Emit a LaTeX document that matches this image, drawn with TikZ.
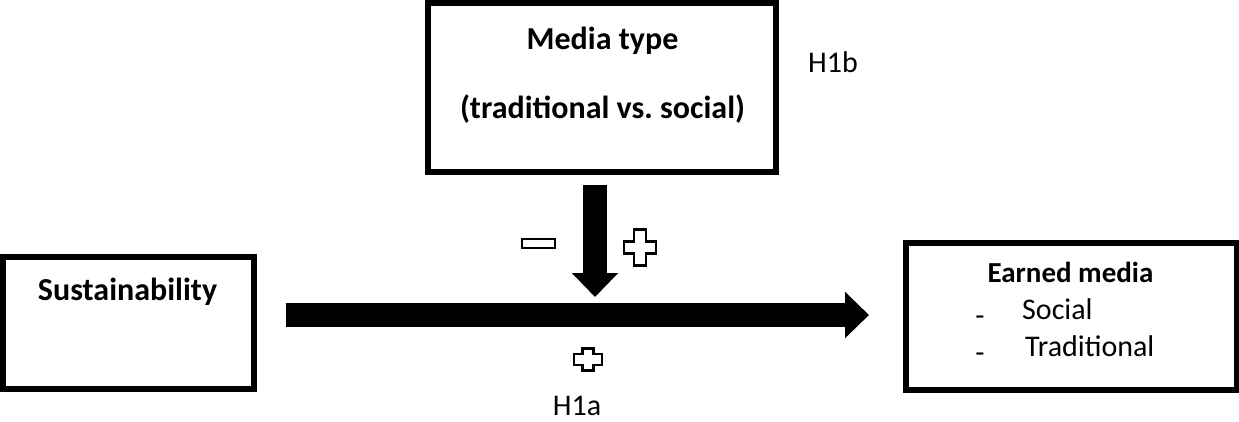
\documentclass[tikz,border=0pt]{standalone}
\usepackage{fontspec}
\setmainfont{Carlito}
\usetikzlibrary{arrows.meta}
\frenchspacing
\newcommand\plusmark[5]{%
  \draw[signmark] (#1-#5,#2-#4) -- (#1+#5,#2-#4) -- (#1+#5,#2-#5) -- (#1+#3,#2-#5) -- (#1+#3,#2+#5) -- (#1+#5,#2+#5) -- (#1+#5,#2+#4) -- (#1-#5,#2+#4) -- (#1-#5,#2+#5) -- (#1-#3,#2+#5) -- (#1-#3,#2-#5) -- (#1-#5,#2-#5) -- cycle;}
\tikzset{
  box/.style={draw, line width=6pt, inner sep=0pt, fill=white},
  btxt/.style={font=\fontsize{32}{38}\selectfont\bfseries, inner sep=0pt, anchor=base},
  rtxt/.style={font=\fontsize{30}{36}\selectfont, inner sep=0pt, anchor=base},
  bigarrow/.style={line width=24pt, -{Triangle[width=45pt,length=24pt]}},
  signmark/.style={draw, line width=2.5pt, fill=white, line join=miter}
}
\begin{document}
\begin{tikzpicture}[x=1pt,y=-1pt]
\useasboundingbox (0,0) rectangle (1239,421);
\node[box, minimum width=347.5pt, minimum height=168.5pt] (media) at (601.75,87.25) {};
\node[box, minimum width=251pt, minimum height=132pt] (sus) at (128.5,323) {};
\node[box, minimum width=331pt, minimum height=147pt] (earned) at (1071,316) {};
\node[btxt] (mt1) at (602.5,49) {Media type};
\node[btxt] (mt2) at (602.5,118) {(traditional vs. social)};
\node[rtxt] (h1b) at (833,72) {H1b};
\node[btxt] (sust) at (127.5,300) {Sustainability};
\node[btxt, font=\fontsize{29}{35}\selectfont\bfseries] (em) at (1070.5,282) {Earned media};
\node[rtxt] (d1) at (980,325) {-};
\node[rtxt, anchor=base west] (soc) at (1022,319) {Social};
\node[rtxt] (d2) at (980,362) {-};
\node[rtxt, anchor=base west] (trad) at (1025,356) {Traditional};
\node[rtxt] (h1a) at (577,415) {H1a};
\coordinate (hs) at (286,315);
\coordinate (he) at (869,315);
\draw[bigarrow] (hs) -- (he);
\coordinate (vs) at (595,185);
\coordinate (ve) at (595,297);
\draw[bigarrow] (vs) -- (ve);
\draw[signmark] (522,239) rectangle (555,248);
\plusmark{640}{247.5}{16}{18}{6}
\plusmark{588}{359.5}{14}{11}{5.5}
\end{tikzpicture}
\end{document}
